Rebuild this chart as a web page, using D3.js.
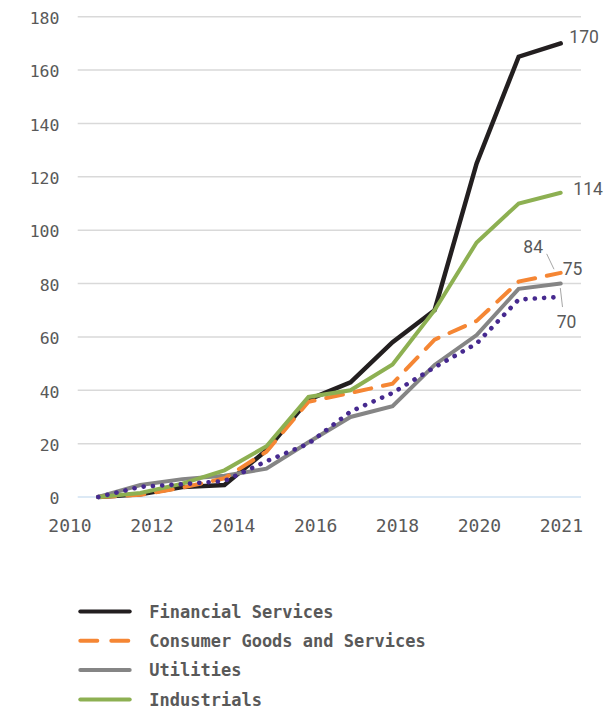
<!DOCTYPE html>
<html>
<head>
<meta charset="utf-8">
<script src="https://cdn.jsdelivr.net/npm/d3@7/dist/d3.min.js"></script>
<style>
  html, body { margin: 0; padding: 0; background: #fff; }
  svg { display: block; }
</style>
</head>
<body>
<svg id="chart" width="614" height="710"></svg>
<script>
// Yearly observations, one per period
const periods = ["2010","2011","2012","2013","2014","2015","2016","2017","2018","2019","2020","2021"];

const financialServices = [0, 1, 3.7, 4.5, 17.5, 36.5, 43, 58, 70, 125, 165, 170];
const consumerGoods     = [0, 0.8, 3.5, 7, 17, 35.7, 39, 42.5, 59, 66, 80.7, 84];
const utilities         = [0, 4.5, 6.7, 8, 10.6, 20.5, 30, 34, 49.5, 60.7, 78, 80];
const industrials       = [0, 1.5, 5, 10, 19, 37.5, 40, 49.7, 70, 95.4, 110, 114];
const otherSector       = [0, 3.8, 4.8, 6, 13.4, 20, 32, 39, 48.6, 57.5, 74, 75];

const xTickLabels = ["2010","2012","2014","2016","2018","2020","2021"];
const yTicks = [0, 20, 40, 60, 80, 100, 120, 140, 160, 180];

const seriesNames  = ["Financial Services", "Consumer Goods and Services", "Utilities", "Industrials"];
const seriesColors = ["#231f20", "#f58634", "#858585", "#8db052", "#46298f"];

const svg = d3.select("#chart");

const y = d3.scaleLinear().domain([0, 180]).range([497, 16.7]);
const x = d3.scalePoint().domain(periods).range([98.3, 560.7]);
const xAxisScale = d3.scalePoint().domain(xTickLabels).range([69.5, 560.8]);

const monoFont = "'DejaVu Sans Mono', 'Liberation Mono', monospace";
const plotLeft = 77.7, plotRight = 581;

// Horizontal gridlines
svg.append("g").selectAll("line")
  .data(yTicks.filter(d => d > 0))
  .join("line")
  .attr("x1", plotLeft).attr("x2", plotRight)
  .attr("y1", d => y(d)).attr("y2", d => y(d))
  .attr("stroke", "#d9d9d9").attr("stroke-width", 1.5);

// Zero baseline
svg.append("line")
  .attr("x1", plotLeft).attr("x2", plotRight)
  .attr("y1", y(0)).attr("y2", y(0))
  .attr("stroke", "#b9d3ec").attr("stroke-width", 1.2);

// Y axis labels
const yAxis = d3.axisLeft(y).tickValues(yTicks).tickSize(0).tickPadding(0);
const gy = svg.append("g").attr("transform", "translate(59.5,1.5)").call(yAxis);
gy.select(".domain").remove();
gy.selectAll("text")
  .attr("font-family", monoFont).attr("font-size", "16.5px").attr("fill", "#595959");

// X axis labels
const xAxis = d3.axisBottom(xAxisScale).tickSize(0).tickPadding(0);
const gx = svg.append("g").attr("transform", "translate(0,519)").call(xAxis);
gx.select(".domain").remove();
gx.selectAll("text")
  .attr("dy", "0.71em")
  .attr("font-family", monoFont).attr("font-size", "18px").attr("fill", "#595959");

const line = d3.line()
  .x((d, i) => x(periods[i]))
  .y(d => y(d));

// Lines, drawn back to front
const drawOrder = [
  { values: financialServices, color: seriesColors[0], width: 4.5, dash: null },
  { values: utilities,         color: seriesColors[2], width: 4,   dash: null },
  { values: consumerGoods,     color: seriesColors[1], width: 4,   dash: "17 12" },
  { values: industrials,       color: seriesColors[3], width: 4,   dash: null },
  { values: otherSector,       color: seriesColors[4], width: 4.6, dash: "0.1 9.2" }
];

svg.append("g").selectAll("path")
  .data(drawOrder)
  .join("path")
  .attr("d", d => line(d.values))
  .attr("fill", "none")
  .attr("stroke", d => d.color)
  .attr("stroke-width", d => d.width)
  .attr("stroke-linejoin", "miter")
  .attr("stroke-linecap", "round")
  .attr("stroke-dasharray", d => d.dash);

// End-of-line value labels
const last = arr => arr[arr.length - 1];
const xEnd = x(last(periods));
const labelFont = "Roboto, 'Liberation Sans', Arial, sans-serif";

const endLabels = [
  { text: last(financialServices), x: xEnd + 8.6,  y: y(last(financialServices)) },
  { text: last(industrials),       x: xEnd + 12.6, y: y(last(industrials)) + 2.2 },
  { text: last(consumerGoods),     x: xEnd - 37.4, y: y(last(consumerGoods)) - 19.6 },
  { text: last(otherSector),       x: xEnd + 2,    y: y(last(otherSector)) - 22 },
  { text: 70,                      x: xEnd - 4,    y: y(last(utilities)) + 44.7 }
];

svg.append("g").selectAll("text")
  .data(endLabels)
  .join("text")
  .attr("x", d => d.x).attr("y", d => d.y)
  .attr("font-family", labelFont).attr("font-size", "17.5px")
  .attr("fill", "#595959")
  .text(d => d.text);

// Leader lines for the crowded labels
const leaders = [
  [[xEnd - 14, y(last(consumerGoods)) - 19], [xEnd - 6.7, y(last(consumerGoods)) - 3.6]],
  [[xEnd - 0.4, y(last(utilities)) + 4.5], [xEnd + 1.8, y(last(utilities)) + 23.5]]
];
svg.append("g").selectAll("line")
  .data(leaders)
  .join("line")
  .attr("x1", d => d[0][0]).attr("y1", d => d[0][1])
  .attr("x2", d => d[1][0]).attr("y2", d => d[1][1])
  .attr("stroke", "#a6a6a6").attr("stroke-width", 1);

// Legend
const legendItems = seriesNames.map((name, i) => ({
  name,
  color: seriesColors[i],
  dash: i === 1 ? "17 14" : null
}));

const legend = svg.append("g").selectAll("g")
  .data(legendItems)
  .join("g")
  .attr("transform", (d, i) => `translate(0,${611.5 + i * 29.3})`);

legend.append("line")
  .attr("x1", 80.3).attr("x2", 129.7)
  .attr("stroke", d => d.color)
  .attr("stroke-width", 4)
  .attr("stroke-linecap", "round")
  .attr("stroke-dasharray", d => d.dash);

legend.append("text")
  .attr("x", 149.3).attr("y", 0).attr("dy", "0.36em")
  .attr("font-family", monoFont).attr("font-weight", "bold")
  .attr("font-size", "17px").attr("fill", "#595959")
  .text(d => d.name);
</script>
</body>
</html>
